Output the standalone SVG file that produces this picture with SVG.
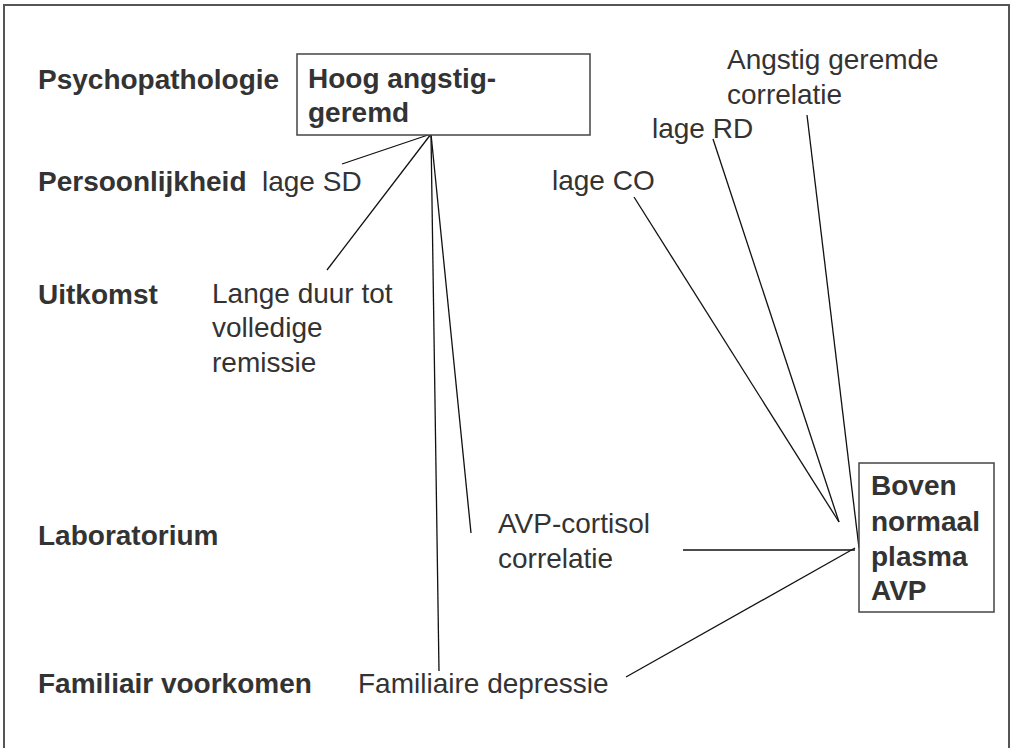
<svg xmlns="http://www.w3.org/2000/svg" width="1014" height="748" viewBox="0 0 1014 748">
<style>
.t{font-family:"Liberation Sans",Arial,sans-serif;font-size:28px;fill:#333}
.b{font-weight:bold}
.box{fill:#fff;stroke:#444;stroke-width:1.5}
.c{stroke:#111;stroke-width:1.3;fill:none}
</style>
<rect width="1014" height="748" fill="#fff"/>
<path d="M4,760 V5 H1009 V760" fill="none" stroke="#555" stroke-width="2"/>
<g id="labels">
<text class="t b" x="38" y="89">Psychopathologie</text>
<text class="t b" x="38" y="191">Persoonlijkheid</text>
<text class="t b" x="38" y="304">Uitkomst</text>
<text class="t b" x="38" y="545">Laboratorium</text>
<text class="t b" x="38" y="693">Familiair voorkomen</text>
</g>
<g id="connectors">
<line class="c" x1="431" y1="134" x2="342" y2="164"/>
<line class="c" x1="431" y1="134" x2="327" y2="270"/>
<line class="c" x1="431" y1="134" x2="439" y2="671"/>
<line class="c" x1="431" y1="134" x2="471" y2="533"/>
<line class="c" x1="634" y1="197" x2="839" y2="522"/>
<line class="c" x1="713" y1="139" x2="839" y2="522"/>
<line class="c" x1="807" y1="115" x2="859" y2="548"/>
<line class="c" x1="683" y1="550" x2="855" y2="550"/>
<line class="c" x1="626" y1="677" x2="855" y2="548"/>
</g>
<g id="hoog">
<rect class="box" x="297" y="54" width="293" height="81"/>
<text class="t b" x="308" y="88">Hoog angstig-</text>
<text class="t b" x="308" y="122">geremd</text>
</g>
<g id="boven">
<rect class="box" x="859" y="463" width="135" height="149"/>
<text class="t b" x="871" y="495">Boven</text>
<text class="t b" x="871" y="531">normaal</text>
<text class="t b" x="871" y="566">plasma</text>
<text class="t b" x="871" y="600">AVP</text>
</g>
<g id="lageSD"><text class="t" x="262" y="191">lage SD</text></g>
<g id="lageCO"><text class="t" x="552" y="190">lage CO</text></g>
<g id="lageRD"><text class="t" x="652" y="138">lage RD</text></g>
<g id="angstigcorr">
<text class="t" x="727" y="69">Angstig geremde</text>
<text class="t" x="727" y="104">correlatie</text>
</g>
<g id="langeduur">
<text class="t" x="212" y="303">Lange duur tot</text>
<text class="t" x="212" y="337">volledige</text>
<text class="t" x="212" y="372">remissie</text>
</g>
<g id="avpcort">
<text class="t" x="498" y="533">AVP-cortisol</text>
<text class="t" x="498" y="568">correlatie</text>
</g>
<g id="famdep"><text class="t" x="358" y="693">Familiaire depressie</text></g>
</svg>
